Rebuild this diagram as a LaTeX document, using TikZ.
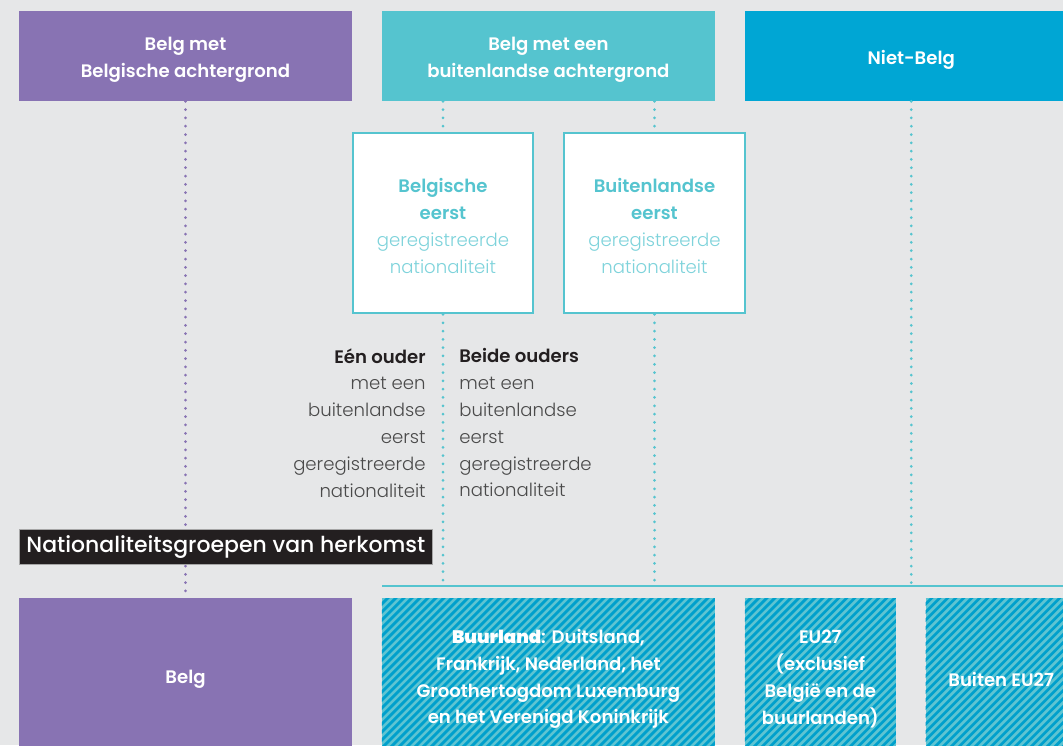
\documentclass[tikz,border=0pt]{standalone}
\usepackage{fontspec}
\setmainfont{Poppins}
\newfontfamily\popsemi{Poppins SemiBold}
\newfontfamily\popmedium{Poppins Medium}
\newfontfamily\poplight{Poppins Light}
\usetikzlibrary{positioning}

\definecolor{grijs}{HTML}{E6E7E8}
\definecolor{paars}{HTML}{8873B3}
\definecolor{turkoois}{HTML}{55C4CF}
\definecolor{blauw}{HTML}{00A6D4}
\definecolor{streep}{HTML}{00A0CC}
\definecolor{streepbg}{HTML}{5EC4D2}
\definecolor{donker}{HTML}{231F20}
\definecolor{tekst}{HTML}{4A4A4A}
\definecolor{lichtturk}{HTML}{7ED3DB}

\begin{document}
\begin{tikzpicture}[x=0.02cm,y=-0.02cm,node distance=0.585cm,
    hoofd/.style={inner sep=0pt,minimum width=6.66cm,minimum height=1.8cm},
    wit/.style={text=white,align=center,yshift=-0.08cm,
      font=\popsemi\fontsize{10.3}{15.3}\selectfont},
    eerstbox/.style={draw=turkoois,line width=0.04cm,fill=white,inner sep=0pt,
      minimum width=3.62cm,minimum height=3.62cm},
    eersttekst/.style={text=turkoois,align=center,yshift=-0.06cm,
      font=\fontsize{10.3}{15.3}\selectfont},
    ouders/.style={inner sep=0pt,text=tekst,font=\poplight\fontsize{10.3}{15.3}\selectfont},
    groep/.style={fill=donker,draw=gray!70,line width=0.02cm,inner xsep=0.14cm,
      minimum height=0.64cm,text=white,font=\popmedium\fontsize{12.5}{14}\selectfont},
    onder/.style={inner sep=0pt,minimum height=3.16cm},
    arcering/.style={fill=streepbg,path picture={
        \foreach \k in {-20,...,45}
          \draw[streep,line width=0.055cm]
            ([xshift=\k*0.16cm]path picture bounding box.south west) -- ++(4cm,4cm);}},
    stippel/.style={line width=0.06cm,line cap=round,dash pattern=on 0pt off 0.166cm},
  ]
  \clip (0,0) rectangle (1063,745);
  \fill[grijs] (0,0) rectangle (1063,745);

  % bovenste rij
  \node[hoofd,fill=paars,label={[wit]center:{Belg met\\Belgische achtergrond}}] (belgbg) at (185.5,56) {};
  \node[hoofd,fill=turkoois,label={[wit]center:{Belg met een\\buitenlandse achtergrond}}] (buitbg) [right=of belgbg] {};
  \node[hoofd,fill=blauw,label={[wit]center:Niet-Belg}] (nietbelg) [right=of buitbg] {};

  % eerst geregistreerde nationaliteit
  \node[eerstbox,label={[eersttekst]center:{{\popsemi Belgische}\\{\popsemi eerst}\\{\poplight\color{lichtturk}geregistreerde}\\{\poplight\color{lichtturk}nationaliteit}}}]
    (belgeerst) at (443,223) {};
  \node[eerstbox,label={[eersttekst]center:{{\popsemi Buitenlandse}\\{\popsemi eerst}\\{\poplight\color{lichtturk}geregistreerde}\\{\poplight\color{lichtturk}nationaliteit}}}]
    (buiteerst) at (654.5,223) {};

  \node[ouders,anchor=north east,align=right] (eenouder) at (426,348)
    {{\popsemi\color{donker}Eén ouder}\\met een\\buitenlandse\\eerst\\geregistreerde\\nationaliteit};
  \node[ouders,anchor=north west,align=left] (beideouders) at (459,348)
    {{\popsemi\color{donker}Beide ouders}\\met een\\buitenlandse\\eerst\\geregistreerde\\nationaliteit};

  % onderste rij
  \node[onder,fill=paars,minimum width=6.66cm,label={[wit,yshift=0.04cm]center:Belg}] (belg) at (185.5,677) {};
  \node[onder,arcering,minimum width=6.66cm,
    label={[wit,yshift=0.04cm]center:{{\bfseries Buurland}: Duitsland,\\Frankrijk, Nederland, het\\Groothertogdom Luxemburg\\en het Verenigd Koninkrijk}}]
    (buurland) [right=of belg] {};
  \node[onder,arcering,minimum width=3.02cm,
    label={[wit,yshift=0.04cm]center:{EU27\\(exclusief\\België en de\\buurlanden)}}] (eu) [right=of buurland] {};
  \node[onder,arcering,minimum width=3.02cm,label={[wit,yshift=0.04cm]center:Buiten EU27}] (buiteneu) [right=of eu] {};

  \coordinate (lijnl) at (382,586);
  \coordinate (lijnr) at (1063,586);
  \draw[turkoois,line width=0.04cm] (lijnl) -- (lijnr);

  % stippellijnen
  \draw[stippel,paars] (belgbg.south) -- (belg.north);
  \draw[stippel,turkoois] (buitbg.south -| belgeerst) -- (belgeerst.north)
    (buitbg.south -| buiteerst) -- (buiteerst.north)
    (belgeerst.south) -- (belgeerst.south |- lijnl)
    (buiteerst.south) -- (buiteerst.south |- lijnl)
    (nietbelg.south) -- (nietbelg.south |- lijnl);

  \node[groep,anchor=west] (herkomst) at (19,547) {Nationaliteitsgroepen van herkomst};
\end{tikzpicture}
\end{document}
